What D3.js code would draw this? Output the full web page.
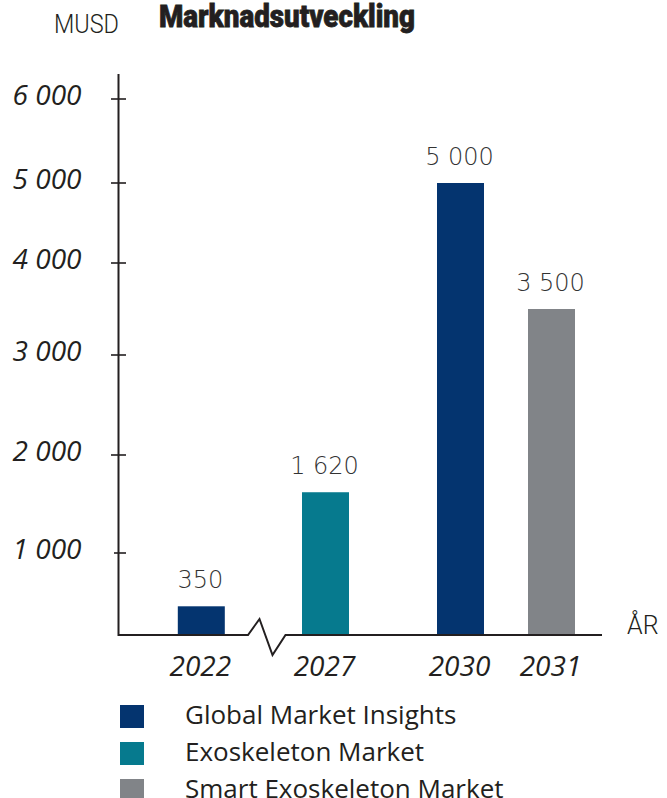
<!DOCTYPE html>
<html>
<head>
<meta charset="utf-8">
<script src="https://cdn.jsdelivr.net/npm/d3@7"></script>
<style>
  html, body { margin: 0; padding: 0; background: #fff; }
  svg { display: block; }
</style>
</head>
<body>
<svg id="chart" width="667" height="798"></svg>
<script>
// ---- data ----
const categories = ["2022", "2027", "2030", "2031"];
const years = [2022, 2027, 2030, 2031];
const values = [350, 1620, 5000, 3500];
const valueLabels = ["350", "1 620", "5 000", "3 500"];
const barSeries = [0, 1, 0, 2];
const legendLabels = ["Global Market Insights", "Exoskeleton Market", "Smart Exoskeleton Market"];
const seriesColors = ["#04346f", "#067a8e", "#818488"];
const yTickValues = [1000, 2000, 3000, 4000, 5000, 6000];
const yTickLabels = ["1 000", "2 000", "3 000", "4 000", "5 000", "6 000"];
const titleText = "Marknadsutveckling";
const yUnit = "MUSD";
const xUnit = "ÅR";

// ---- layout ----
const svg = d3.select("#chart");
const ink = "#231f20";
const axisX = 118.5;
const barW = 47;

// the reference axis is hand-spaced, so the y scale is polylinear over the tick values
const y = d3.scaleLinear()
  .domain([0].concat(yTickValues))
  .range([635, 553, 455, 355, 263, 183, 99]);

// broken time axis: piecewise linear over the years
const x = d3.scaleLinear()
  .domain(years)
  .range([201.3, 325.5, 460.5, 551.5]);

// title
svg.append("text")
  .attr("x", 159).attr("y", 27)
  .attr("font-family", "Roboto, 'Open Sans', sans-serif")
  .attr("font-weight", 900)
  .attr("font-size", 31)
  .attr("fill", ink)
  .attr("stroke", ink)
  .attr("stroke-width", 0.8)
  .attr("textLength", 256)
  .attr("lengthAdjust", "spacingAndGlyphs")
  .text(titleText);

// unit label
svg.append("text")
  .attr("x", 54).attr("y", 33)
  .attr("font-family", "Roboto, sans-serif")
  .attr("font-weight", 300)
  .attr("font-size", 25)
  .attr("fill", ink)
  .attr("textLength", 65)
  .attr("lengthAdjust", "spacingAndGlyphs")
  .text(yUnit);

// y axis labels via d3 axis
const yAxis = d3.axisLeft(y)
  .tickValues(yTickValues)
  .tickFormat((d, i) => yTickLabels[i])
  .tickSize(0)
  .tickPadding(37);

const gy = svg.append("g")
  .attr("transform", `translate(${axisX},0)`)
  .call(yAxis);
gy.select(".domain").remove();
gy.selectAll("text")
  .attr("font-family", "'Open Sans', sans-serif")
  .attr("font-style", "italic")
  .attr("font-size", 28)
  .attr("fill", ink)
  .attr("dy", "0.2em");

// axis line
svg.append("line")
  .attr("x1", axisX).attr("x2", axisX)
  .attr("y1", y(6000) - 25).attr("y2", y(0) + 1)
  .attr("stroke", ink).attr("stroke-width", 2);

// crossing tick marks
svg.append("g").selectAll("line")
  .data(yTickValues)
  .join("line")
  .attr("x1", d => d === 1000 ? axisX - 4.5 : axisX - 7.5)
  .attr("x2", axisX + 7.5)
  .attr("y1", d => y(d)).attr("y2", d => y(d))
  .attr("stroke", ink).attr("stroke-width", 1.6);

// bars
svg.append("g").selectAll("rect")
  .data(values)
  .join("rect")
  .attr("x", (d, i) => x(years[i]) - barW / 2)
  .attr("width", barW)
  .attr("y", d => y(d))
  .attr("height", d => y(0) - y(d))
  .attr("fill", (d, i) => seriesColors[barSeries[i]]);

// value labels
svg.append("g").selectAll("text")
  .data(values)
  .join("text")
  .attr("x", (d, i) => x(years[i]) - 1)
  .attr("y", d => y(d) - 18)
  .attr("text-anchor", "middle")
  .attr("font-family", "'DejaVu Sans', sans-serif")
  .attr("font-weight", 300)
  .attr("font-size", 24)
  .attr("fill", "#333")
  .text((d, i) => valueLabels[i]);

// baseline with axis break
const y0 = y(0);
const baseline = d3.line()([
  [axisX, y0], [248, y0], [259.5, 619], [272.5, 655], [285.5, y0], [602, y0]
]);
svg.append("path")
  .attr("d", baseline)
  .attr("fill", "none")
  .attr("stroke", ink)
  .attr("stroke-width", 2)
  .attr("stroke-linejoin", "miter");

// x labels
svg.append("g").selectAll("text")
  .data(categories)
  .join("text")
  .attr("x", (d, i) => x(years[i]) - 1)
  .attr("y", 676)
  .attr("text-anchor", "middle")
  .attr("font-family", "'Open Sans', sans-serif")
  .attr("font-style", "italic")
  .attr("font-size", 28)
  .attr("fill", ink)
  .text(d => d);

// x unit
svg.append("text")
  .attr("x", 627).attr("y", 634)
  .attr("font-family", "Roboto, sans-serif")
  .attr("font-weight", 300)
  .attr("font-size", 25)
  .attr("fill", ink)
  .text(xUnit);

// legend
const lg = svg.append("g").selectAll("g")
  .data(legendLabels)
  .join("g")
  .attr("transform", (d, i) => `translate(0,${i * 37})`);
lg.append("rect")
  .attr("x", 120).attr("y", 705)
  .attr("width", 24).attr("height", 23)
  .attr("fill", (d, i) => seriesColors[i]);
lg.append("text")
  .attr("x", 185).attr("y", 724)
  .attr("font-family", "'Open Sans', sans-serif")
  .attr("font-size", 26)
  .attr("fill", ink)
  .text(d => d);
</script>
</body>
</html>
